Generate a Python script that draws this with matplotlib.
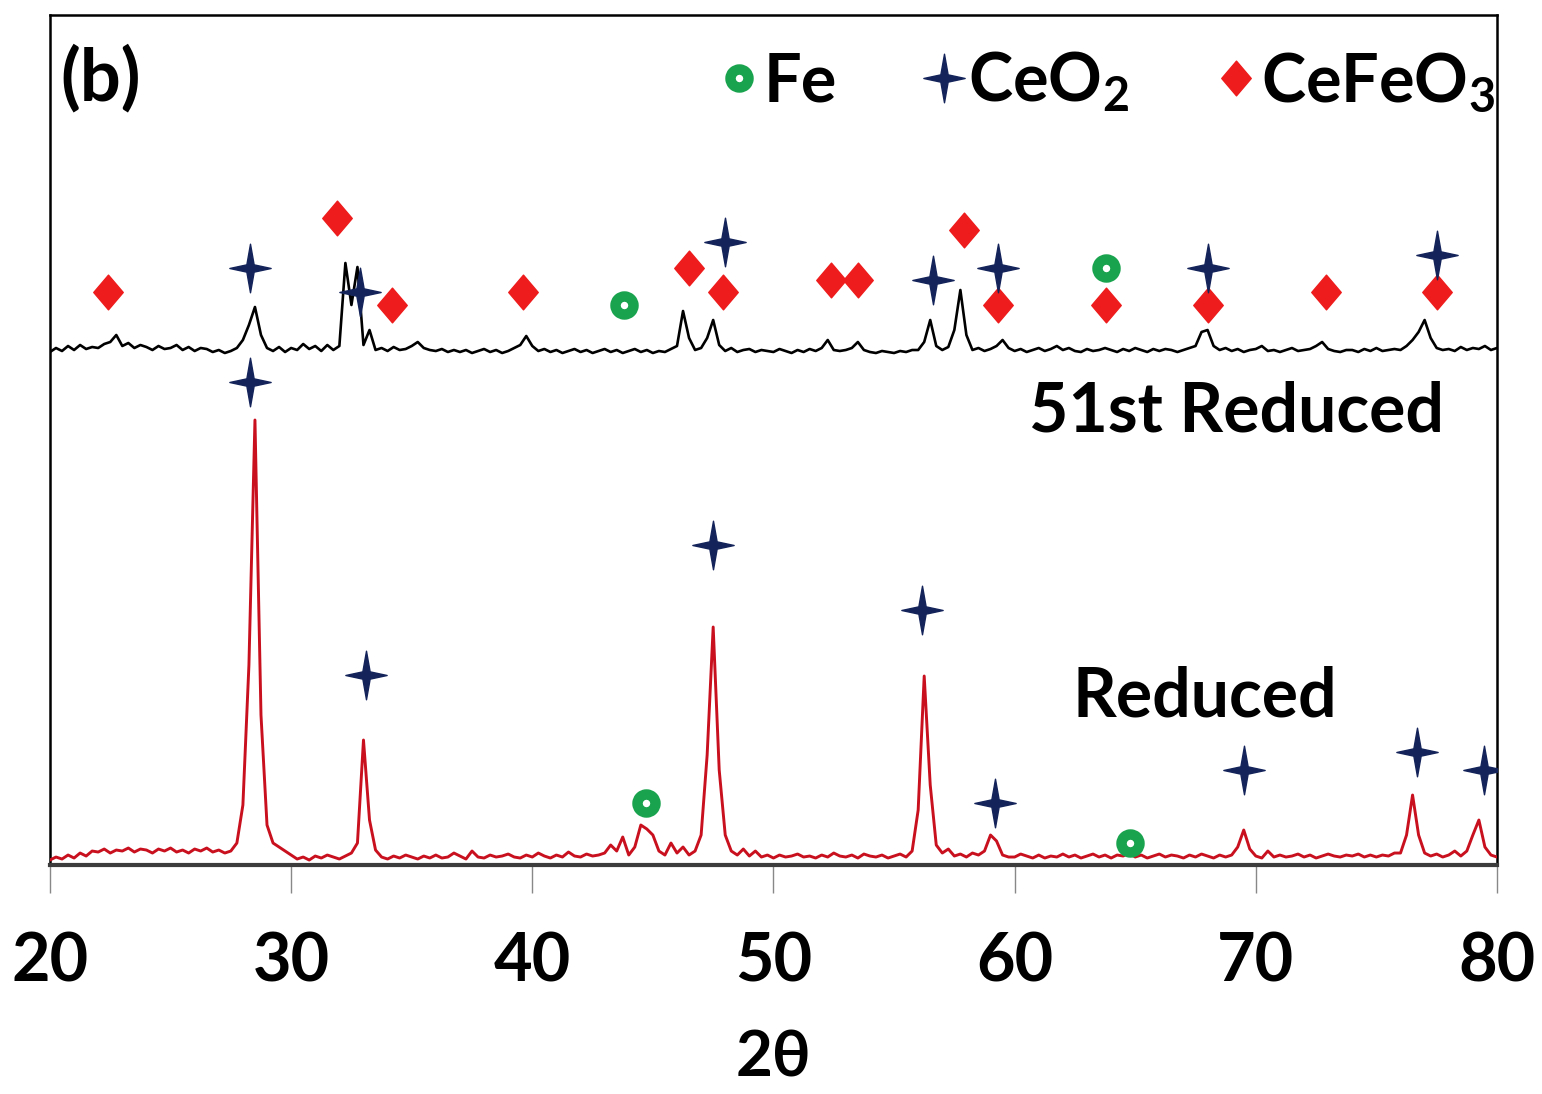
import matplotlib
matplotlib.use("Agg")
import matplotlib.pyplot as plt
import numpy as np
from matplotlib.path import Path
from matplotlib.lines import Line2D

plt.rcParams['font.family'] = ['Lato', 'DejaVu Sans']
plt.rcParams['font.weight'] = 'bold'
plt.rcParams['mathtext.fontset'] = 'custom'
plt.rcParams['mathtext.rm'] = 'Lato:bold'
plt.rcParams['mathtext.it'] = 'Lato:bold'
plt.rcParams['mathtext.bf'] = 'Lato:bold'
plt.rcParams['mathtext.default'] = 'rm'

# scan grid, 0.25 deg step
two_theta = np.arange(20.0, 80.001, 0.25)

# reduced sample, intensity (a.u.), 4 points per degree
reduced = [
    5, 8, 6, 10,        # 20
    7, 12, 9, 14,       # 21
    13, 16, 12, 15,     # 22
    14, 17, 13, 16,     # 23
    15, 12, 16, 14,     # 24
    17, 13, 15, 12,     # 25
    16, 14, 17, 13,     # 26
    15, 12, 14, 22,     # 27
    60, 200, 445, 150,  # 28
    40, 22, 18, 14,     # 29
    10, 6, 8, 5,        # 30
    9, 7, 10, 8,        # 31
    6, 9, 12, 22,       # 32
    125, 45, 15, 8,     # 33
    6, 9, 7, 10,        # 34
    8, 6, 9, 7,         # 35
    10, 7, 8, 12,       # 36
    9, 6, 14, 8,        # 37
    7, 10, 8, 9,        # 38
    11, 8, 7, 10,       # 39
    8, 12, 9, 7,        # 40
    10, 8, 13, 9,       # 41
    8, 11, 9, 10,       # 42
    12, 20, 14, 28,     # 43
    10, 18, 40, 36,     # 44
    30, 14, 10, 22,     # 45
    12, 18, 10, 14,     # 46
    30, 110, 238, 95,   # 47
    30, 14, 10, 16,     # 48
    9, 14, 8, 10,       # 49
    7, 10, 8, 9,        # 50
    11, 8, 9, 7,        # 51
    10, 8, 12, 9,       # 52
    8, 10, 7, 11,       # 53
    9, 8, 10, 7,        # 54
    9, 11, 8, 14,       # 55
    55, 189, 80, 20,    # 56
    12, 16, 9, 11,      # 57
    8, 12, 10, 14,      # 58
    30, 24, 10, 8,      # 59
    8, 11, 9, 7,        # 60
    10, 7, 9, 8,        # 61
    11, 8, 10, 7,       # 62
    9, 11, 8, 10,       # 63
    7, 10, 9, 12,       # 64
    8, 10, 7, 9,        # 65
    11, 8, 10, 9,       # 66
    7, 10, 8, 11,       # 67
    9, 7, 10, 8,        # 68
    10, 18, 35, 16,     # 69
    9, 7, 14, 8,        # 70
    10, 8, 9, 11,       # 71
    8, 10, 7, 9,        # 72
    11, 9, 8, 10,       # 73
    9, 11, 8, 10,       # 74
    8, 10, 9, 12,       # 75
    12, 30, 70, 30,     # 76
    12, 9, 11, 8,       # 77
    10, 14, 9, 14,      # 78
    30, 45, 18, 10,     # 79
    8,                  # 80
]

# 51st reduced sample, intensity (a.u.) before stacking offset
reduced_51 = [
    8, 12, 9, 14,       # 20
    10, 15, 11, 13,     # 21
    12, 16, 18, 25,     # 22
    14, 17, 12, 15,     # 23
    13, 10, 14, 11,     # 24
    12, 15, 10, 13,     # 25
    9, 12, 11, 8,       # 26
    10, 7, 9, 12,       # 27
    20, 35, 53, 25,     # 28
    12, 9, 13, 8,       # 29
    12, 10, 16, 11,     # 30
    14, 9, 15, 10,      # 31
    14, 97, 55, 93,     # 32
    15, 30, 10, 12,     # 33
    9, 13, 10, 11,      # 34
    14, 18, 12, 10,     # 35
    9, 11, 8, 10,       # 36
    8, 10, 7, 9,        # 37
    11, 8, 10, 7,       # 38
    9, 12, 15, 24,      # 39
    14, 9, 11, 8,       # 40
    10, 7, 9, 11,       # 41
    8, 10, 7, 9,        # 42
    11, 8, 10, 7,       # 43
    9, 11, 8, 10,       # 44
    7, 9, 8, 11,        # 45
    14, 49, 22, 10,     # 46
    12, 22, 40, 15,     # 47
    9, 12, 8, 10,       # 48
    11, 8, 10, 9,       # 49
    8, 11, 9, 7,        # 50
    10, 8, 11, 9,       # 51
    12, 20, 10, 9,      # 52
    10, 12, 18, 10,     # 53
    8, 7, 9, 8,         # 54
    7, 9, 8, 10,        # 55
    10, 18, 40, 14,     # 56
    10, 13, 30, 70,     # 57
    25, 10, 12, 9,      # 58
    11, 14, 20, 12,     # 59
    9, 11, 8, 10,       # 60
    12, 9, 11, 14,      # 61
    10, 12, 9, 8,       # 62
    11, 9, 10, 12,      # 63
    10, 8, 11, 9,       # 64
    12, 10, 8, 11,      # 65
    9, 11, 10, 8,       # 66
    10, 12, 14, 28,     # 67
    30, 14, 10, 12,     # 68
    9, 11, 8, 10,       # 69
    11, 14, 9, 10,      # 70
    8, 10, 12, 9,       # 71
    10, 11, 14, 18,     # 72
    11, 9, 8, 10,       # 73
    10, 8, 11, 9,       # 74
    12, 9, 10, 11,      # 75
    10, 14, 20, 28,     # 76
    40, 22, 12, 10,     # 77
    11, 9, 13, 10,      # 78
    12, 11, 14, 10,     # 79
    12,                 # 80
]
offset_51 = 505

# phase markers (2theta, height) for both patterns
cefeo3_x = [22.4, 31.9, 34.2, 39.6, 46.5, 47.9, 52.4, 53.5, 57.9, 59.3, 63.8, 68.0, 72.9, 77.5]
cefeo3_y = [573, 647, 560, 573, 597, 573, 585, 585, 635, 560, 560, 560, 573, 573]
ceo2_x = [28.3, 32.85, 48.0, 56.6, 59.3, 68.0, 77.5,
          28.3, 33.1, 47.5, 56.15, 59.2, 69.5, 76.7, 79.45]
ceo2_y = [597, 573, 623, 585, 597, 597, 610,
          483, 190, 320, 255, 62, 95, 113, 95]
fe_x = [43.8, 63.8, 44.7, 64.8]
fe_y = [560, 597, 62, 22]

x_ticks = [20, 30, 40, 50, 60, 70, 80]

red = '#c8101e'
navy = '#14245a'
diamond_red = '#ee1c1c'
green = '#1aa34e'

star = Path([(0, 1), (0.15, 0.15), (0.85, 0), (0.15, -0.15), (0, -1),
             (-0.15, -0.15), (-0.85, 0), (-0.15, 0.15), (0, 1)],
            [Path.MOVETO] + [Path.LINETO] * 7 + [Path.CLOSEPOLY])
diamond = Path([(0, 1), (0.85, 0), (0, -1), (-0.85, 0), (0, 1)],
               [Path.MOVETO] + [Path.LINETO] * 3 + [Path.CLOSEPOLY])

fig = plt.figure(figsize=(15.42, 10.94), dpi=100)
ax = fig.add_axes([0.0324, 0.2093, 0.9384, 0.777])

ax.plot(two_theta, reduced, color=red, lw=2.1, zorder=3)
ax.plot(two_theta, np.array(reduced_51) + offset_51, color='black', lw=1.9, zorder=3)

ax.plot(cefeo3_x, cefeo3_y, ls='none', marker=diamond, ms=25, color=diamond_red,
        mec=diamond_red, zorder=4)
ax.plot(ceo2_x, ceo2_y, ls='none', marker=star, ms=35, color=navy, mec=navy, zorder=4)
ax.plot(fe_x, fe_y, ls='none', marker='o', ms=13, mfc='white', mec=green, mew=7.5, zorder=4)

ax.text(60.6, 453, '51st Reduced', fontsize=49, fontweight='bold', va='center', ha='left')
ax.text(62.4, 168, 'Reduced', fontsize=49, fontweight='bold', va='center', ha='left')
ax.text(0.007, 0.925, '(b)', transform=ax.transAxes, fontsize=52, fontweight='bold',
        va='center', ha='left')

handles = [
    Line2D([], [], ls='none', marker='o', ms=13, mfc='white', mec=green, mew=7.5),
    Line2D([], [], ls='none', marker=star, ms=35, color=navy, mec=navy),
    Line2D([], [], ls='none', marker=diamond, ms=25, color=diamond_red, mec=diamond_red),
]
ax.legend(handles, ['Fe', 'CeO$_2$', 'CeFeO$_3$'], ncol=3, loc='upper right',
          bbox_to_anchor=(1.04, 1.03), frameon=False,
          handlelength=0.5, handletextpad=0.12, columnspacing=1.35,
          prop={'weight': 'bold', 'size': 48})

ax.set_xlim(20, 80)
ax.set_ylim(0, 850)
ax.set_xticks(x_ticks)
ax.set_yticks([])
ax.tick_params(axis='x', direction='out', length=20, width=1, color='#888888',
               labelsize=48, pad=28)
for lab in ax.get_xticklabels():
    lab.set_fontweight('bold')
ax.set_xlabel('2θ', fontsize=46, fontweight='bold', labelpad=26)

for side in ['left', 'top', 'right']:
    ax.spines[side].set_linewidth(1.8)
    ax.spines[side].set_color('black')
ax.spines['bottom'].set_linewidth(3)
ax.spines['bottom'].set_color('#3c3c3c')

fig.savefig('out.png', dpi=100)
